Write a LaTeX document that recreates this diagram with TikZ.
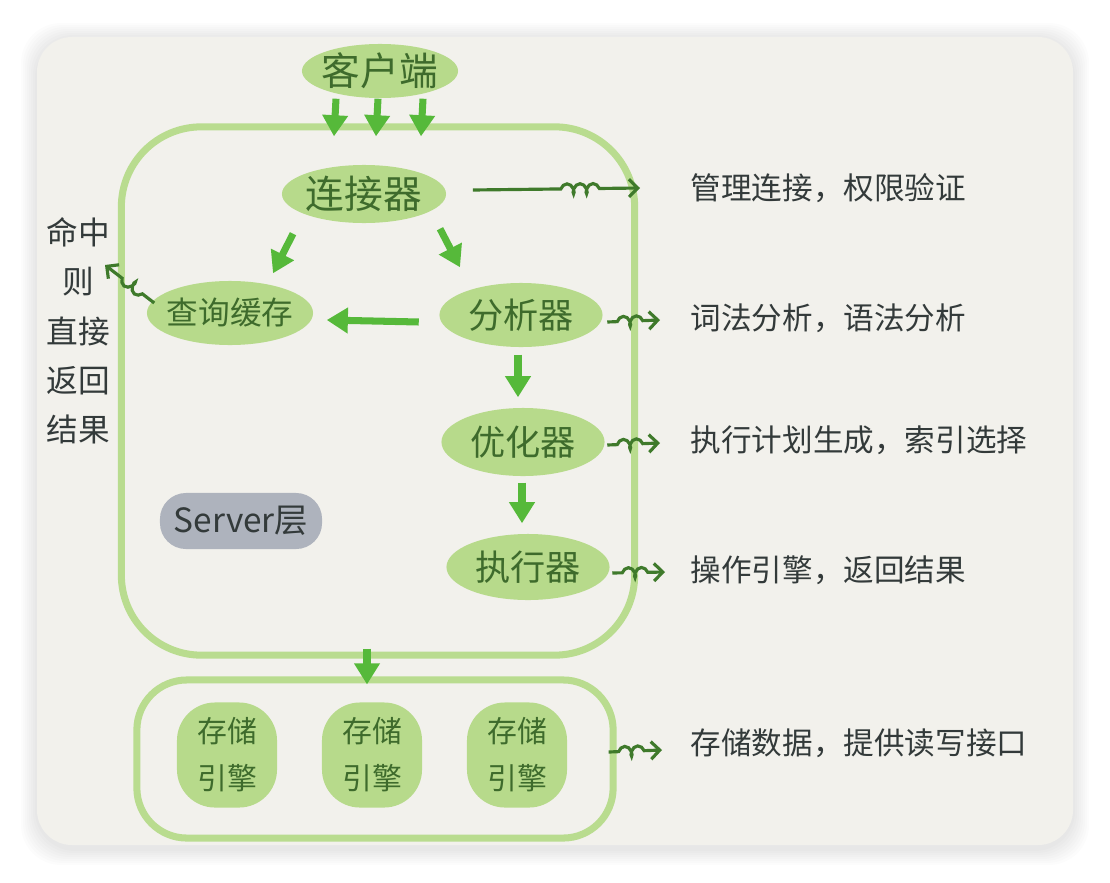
\documentclass[tikz,border=0pt]{standalone}
\usepackage{fontspec}
\setmainfont{Noto Sans CJK SC}
\usepackage{xcolor}
\usetikzlibrary{arrows.meta,positioning,shapes.geometric,calc,decorations.pathmorphing}

\definecolor{cardbg}{HTML}{F2F1EC}
\definecolor{stagefill}{HTML}{B7DA8B}
\definecolor{stagetext}{HTML}{3E6B2C}
\definecolor{layerline}{HTML}{B9DC8F}
\definecolor{flowgreen}{HTML}{56B93A}
\definecolor{curlgreen}{HTML}{3F7A2B}
\definecolor{notetext}{HTML}{333A3A}
\definecolor{tagfill}{HTML}{AEB3BD}

\begin{document}
\begin{tikzpicture}[
  x=0.01cm, y=-0.01cm,
  stage/.style={ellipse, fill=stagefill, text=stagetext, inner sep=0pt, minimum width=1.63cm, minimum height=0.64cm, font=\fontsize{10}{12}\selectfont},
  engine/.style={rectangle, rounded corners=0.38cm, fill=stagefill, text=stagetext, align=center, minimum width=1.0cm, minimum height=1.05cm, font=\fontsize{8.5}{13.4}\selectfont},
  layer/.style={draw=layerline, line width=2pt, rectangle},
  flow/.style={-{Triangle[width=7pt,length=6pt]}, line width=2pt, draw=flowgreen},
  curl/.style={draw=curlgreen, line width=0.9pt, -{Straight Barb[length=2.5pt,width=5pt]}, decorate, decoration={coil, amplitude=0.05cm, segment length=0.13cm, aspect=0.6, pre length=#1, post length=0.15cm}},
  curl/.default=0.1cm,
  note/.style={text=notetext, anchor=west, inner sep=0pt, font=\fontsize{8.7}{11}\selectfont}
]
\useasboundingbox (0,0) rectangle (1110,882);

% card and its shadow
\foreach \s in {1,...,8}
  \fill[black, opacity=0.012, rounded corners=0.4cm] (37-2*\s,39-2*\s) rectangle (1073+2*\s,849+2*\s);
\fill[cardbg, rounded corners=0.35cm] (37,37) rectangle (1073,845);

% layers
\node[layer, rounded corners=0.8cm, minimum width=5.13cm, minimum height=5.28cm] (server) at (378,391) {};
\node[layer, rounded corners=0.5cm, minimum width=4.76cm, minimum height=1.58cm] (storage) at (375,759) {};

% stages
\node[stage, minimum width=1.56cm, minimum height=0.54cm, inner xsep=-1pt, font=\fontsize{11}{13}\selectfont] (client) at (380,71) {客户端};
\node[stage, minimum height=0.58cm, font=\fontsize{11}{13}\selectfont] (connector) at (364,194) {连接器};
\node[stage, minimum width=1.65cm, minimum height=0.64cm, inner xsep=-1.3pt, font=\fontsize{9}{11}\selectfont] (cache) at (230,313) {查询缓存};
\node[stage] (parser) at (521,315) {分析器};
\node[stage, minimum height=0.68cm] (optimizer) at (523,442) {优化器};
\node[stage, minimum height=0.66cm] (executor) at (528,567) {执行器};
\node[rectangle, rounded corners=0.26cm, fill=tagfill, text=notetext, inner sep=0pt, minimum width=1.62cm, minimum height=0.56cm, font=\fontsize{9.5}{12}\selectfont] (tag) at (241,521) {Server层};

\node[engine] (engineA) at (227,755) {存储\\引擎};
\node[engine] (engineB) at (372,755) {存储\\引擎};
\node[engine] (engineC) at (517,755) {存储\\引擎};

% notes
\node[note] (mgmt) at (690,188) {管理连接，权限验证};
\node[note] (lex) at (690,318) {词法分析，语法分析};
\node[note] (plan) at (690,440) {执行计划生成，索引选择};
\node[note] (ops) at (690,570) {操作引擎，返回结果};
\node[note] (data) at (690,743) {存储数据，提供读写接口};
\node[text=notetext, align=center, inner sep=0pt, font=\fontsize{9}{14}\selectfont] (hit) at (78,331) {命中\\则\\直接\\返回\\结果};

% main flow
\foreach \dx in {-44,-2,43}
  \draw[flow] ($(client.south)+(\dx,0)$) -- ($(server.north)+(\dx,13)$);
\draw[flow] ($(connector.south)+(-71,10)$) -- ($(cache.north)+(43,-7)$);
\draw[flow] ($(connector.south)+(76,5)$) -- ($(parser.north)+(-61,-15)$);
\draw[flow] ($(parser.west)+(-20,7)$) -- ($(cache.east)+(13,7)$);
\draw[flow] ($(parser.south)+(-3,7)$) -- ($(optimizer.north)+(-5,-10)$);
\draw[flow] ($(optimizer.south)+(-1,6)$) -- ($(executor.north)+(-6,-10)$);
\draw[flow] ($(server.south)+(-11,-10)$) -- ($(storage.north)+(-8,8)$);

% remarks
\draw[curl=0.88cm, decoration={post length=0.4cm}] ($(connector.east)+(26,-4)$) -- ($(mgmt.west)+(-50,0)$);
\draw[curl] ($(parser.east)+(4,7)$) -- ($(lex.west)+(-30,2)$);
\draw[curl] ($(optimizer.east)+(2,3)$) -- ($(plan.west)+(-30,3)$);
\draw[curl] ($(executor.east)+(2,6)$) -- ($(ops.west)+(-25,2)$);
\draw[curl] ($(storage.east)+(-8,-7)$) -- ($(data.west)+(-28,7)$);
\draw[curl=0.15cm] ($(cache.west)+(8,-10)$) -- ($(hit.center)+(27,-66)$);
\end{tikzpicture}
\end{document}
